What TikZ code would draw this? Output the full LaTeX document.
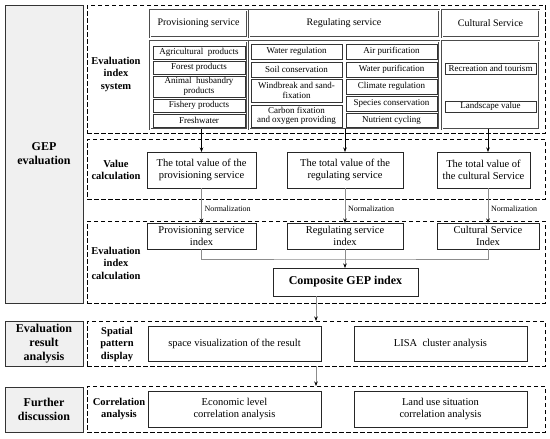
\documentclass[tikz,border=0pt]{standalone}
\usepackage{fontspec}
\setmainfont{Liberation Serif}
\usetikzlibrary{arrows.meta,calc}
\newcommand{\bx}[7]{%
  \pgfmathsetmacro\bw{#4-#2}\pgfmathsetmacro\bh{#5-#3}%
  \node[#6,minimum width=\bw pt,minimum height=\bh pt] (#1) at ({(#2+#4)/2},{(#3+#5)/2}) {#7};}
\begin{document}
\begin{tikzpicture}[x=1pt,y=-1pt,
  every node/.style={inner sep=0pt,outer sep=0pt,align=center},
  graybox/.style={draw=black!80,line width=0.9pt,fill=black!6,font=\fontsize{12}{14}\selectfont\bfseries},
  dbox/.style={draw=black,line width=1pt,dash pattern=on 4.5pt off 2.5pt},
  lbl/.style={font=\fontsize{10.5}{12.5}\selectfont\bfseries},
  hdr/.style={draw=black!70,double=white,double distance=0.8pt,line width=0.7pt,font=\fontsize{10}{12}\selectfont},
  grp/.style={draw=black!70,double=white,double distance=0.8pt,line width=0.7pt},
  item/.style={draw=black!80,line width=0.9pt,font=\fontsize{9}{9.5}\selectfont},
  mbox/.style={draw=black!85,line width=1pt,font=\fontsize{10.5}{12.5}\selectfont},
  arr/.style={line width=0.6pt,-{Stealth[length=4.5pt,width=3.5pt,black]}},
  garr/.style={draw=black!45,line width=0.6pt,-{Stealth[length=4.5pt,width=3.5pt,black]}},
  gline/.style={draw=black!45,line width=0.6pt},
  norm/.style={font=\fontsize{8}{9}\selectfont,anchor=west}]
\useasboundingbox (0,0) rectangle (550,439);
% left gray boxes
\bx{gep}{5}{5}{83}{303}{graybox}{GEP\\evaluation}
\bx{era}{5}{321}{83}{366}{graybox}{Evaluation\\result\\analysis}
\bx{fd}{5}{387}{83}{432}{graybox}{Further\\discussion}
% dashed boxes
\bx{d1}{87}{5}{545}{133}{dbox}{}
\bx{d2}{87}{139}{545}{199}{dbox}{}
\bx{d3}{87}{221}{545}{303}{dbox}{}
\bx{d4}{87}{321}{545}{366}{dbox}{}
\bx{d5}{87}{386}{545}{432}{dbox}{}
% dashed box labels
\node[lbl] (l1) at (116,74) {Evaluation\\index\\system};
\node[lbl] (l2) at (116,170) {Value\\calculation};
\node[lbl] (l3) at (116,263) {Evaluation\\index\\calculation};
\node[lbl] (l4) at (117,344) {Spatial\\pattern\\display};
\node[lbl] (l5) at (119,409) {Correlation\\analysis};
% headers
\bx{hp}{150}{10}{247}{37}{hdr}{Provisioning service}
\bx{hr}{249}{10}{439}{37}{hdr}{Regulating service}
\bx{hc}{442}{10}{539}{37}{hdr}{Cultural Service}
% groups
\bx{gp}{150}{41}{247}{129}{grp}{}
\bx{gr}{249}{41}{439}{129}{grp}{}
\bx{gc}{442}{41}{539}{129}{grp}{}
% provisioning items
\bx{p1}{153}{46}{245}{59}{item}{Agricultural\ \ products}
\bx{p2}{153}{61}{245}{74}{item}{Forest products}
\bx{p3}{153}{76}{245}{97}{item}{Animal\ \ husbandry\\products}
\bx{p4}{153}{99}{245}{112}{item}{Fishery products}
\bx{p5}{153}{114}{245}{127}{item}{Freshwater}
% regulating items
\bx{r1}{251}{44}{342}{59}{item}{Water regulation}
\bx{r2}{251}{62}{342}{77}{item}{Soil conservation}
\bx{r3}{251}{79}{342}{102}{item}{Windbreak and sand-\\fixation}
\bx{r4}{251}{105}{342}{127}{item}{Carbon fixation\\and oxygen providing}
\bx{r5}{346}{44}{437}{59}{item}{Air purification}
\bx{r6}{346}{62}{437}{77}{item}{Water purification}
\bx{r7}{346}{79}{437}{94}{item}{Climate regulation}
\bx{r8}{346}{96}{437}{111}{item}{Species conservation}
\bx{r9}{346}{113}{437}{127}{item}{Nutrient cycling}
% cultural items
\bx{c1}{445}{63}{536}{74}{item}{Recreation and tourism}
\bx{c2}{445}{101}{536}{112}{item}{Landscape value}
% totals
\bx{tp}{147}{152}{256}{188}{mbox}{The total value of the\\provisioning service}
\bx{tr}{287}{152}{403}{188}{mbox}{The total value of the\\regulating service}
\bx{tc}{437}{152}{530}{188}{mbox}{The total value of\\the cultural Service}
% indices
\bx{ip}{147}{223}{256}{249}{mbox}{Provisioning service\\index}
\bx{ir}{287}{223}{403}{249}{mbox}{Regulating service\\index}
\bx{ic}{437}{223}{539}{249}{mbox}{Cultural Service\\Index}
\bx{comp}{273}{268}{418}{296}{mbox,font=\fontsize{12}{14}\selectfont\bfseries}{Composite GEP index}
% results
\bx{sv}{148}{326}{321}{361}{mbox}{space visualization of the result}
\bx{lisa}{354}{326}{527}{361}{mbox}{LISA\ \ cluster analysis}
\bx{econ}{148}{391}{321}{427}{mbox}{Economic level\\correlation analysis}
\bx{land}{354}{391}{527}{427}{mbox}{Land use situation\\correlation analysis}
% arrows group -> totals
\draw[arr] (gp.south -| tp.north) -- (tp.north);
\draw[arr] (gr.south -| tr.north) -- (tr.north);
\draw[arr] (gc.south -| ic.north) -- (tc.north -| ic.north);
% normalization
\draw[garr] (tp.south) -- (ip.north);
\draw[garr] (tr.south) -- (ir.north);
\draw[garr] (tc.south -| ic.north) -- (ic.north);
\node[norm] (n1) at ($(tp.south)!0.58!(ip.north)+(3,0)$) {Normalization};
\node[norm] (n2) at ($(tr.south)!0.58!(ir.north)+(3,0)$) {Normalization};
\node[norm] (n3) at ($(tc.south -| ic.north)!0.58!(ic.north)+(3,0)$) {Normalization};
% indices -> composite
\coordinate (j) at ($(ir.south)+(0,10)$);
\draw[gline] (ip.south) |- (j) -| (ic.south);
\draw[garr] (ir.south) -- (comp.north -| ir.south);
% composite -> results -> discussion
\coordinate (k) at ([xshift=-29.5pt]comp.south);
\draw[garr] (k) -- (k |- d4.north);
\draw[garr] (k |- d4.south) -- (k |- d5.north);
\end{tikzpicture}
\end{document}
